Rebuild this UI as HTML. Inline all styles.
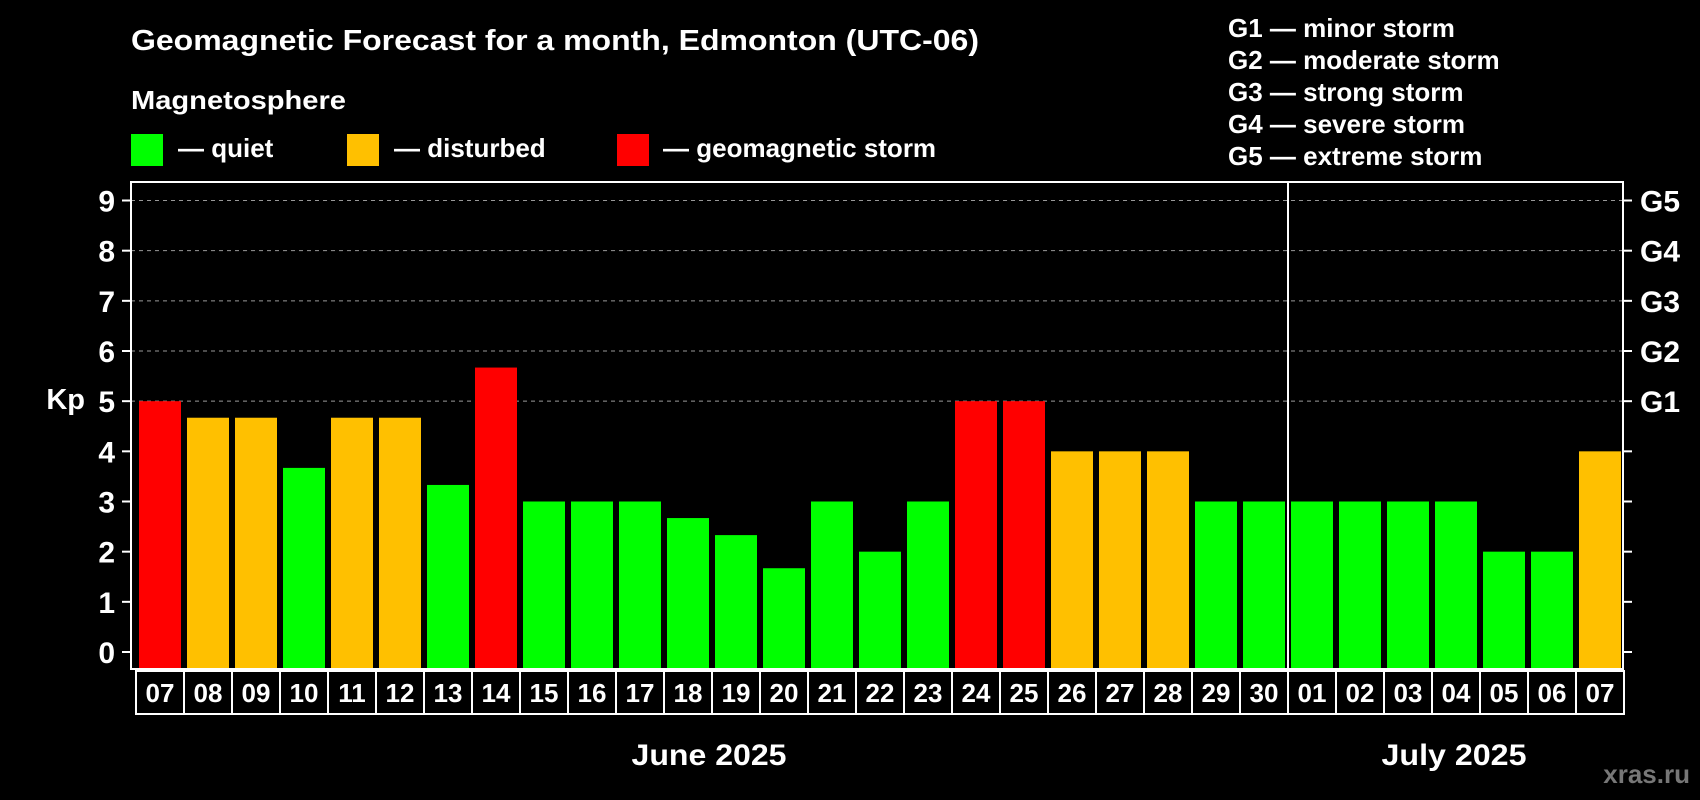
<!DOCTYPE html>
<html><head><meta charset="utf-8"><style>
html,body{margin:0;padding:0;background:#000;}
svg{display:block;font-family:"Liberation Sans",Arial,sans-serif;font-weight:bold;}
</style></head><body>
<svg id="chart" width="1700" height="800" viewBox="0 0 1700 800">
<rect width="1700" height="800" fill="#000"/>
<text x="131" y="50" fill="#fff" font-size="29" textLength="848" lengthAdjust="spacingAndGlyphs">Geomagnetic Forecast for a month, Edmonton (UTC-06)</text>
<text x="131" y="109" fill="#fff" font-size="26" textLength="215" lengthAdjust="spacingAndGlyphs">Magnetosphere</text>
<g>
<rect x="131" y="134" width="32" height="32" fill="#00ff00"/>
<text x="178" y="157" fill="#fff" font-size="26">— quiet</text>
<rect x="347" y="134" width="32" height="32" fill="#ffc000"/>
<text x="394" y="157" fill="#fff" font-size="26">— disturbed</text>
<rect x="617" y="134" width="32" height="32" fill="#ff0000"/>
<text x="663" y="157" fill="#fff" font-size="26">— geomagnetic storm</text>
</g>
<g font-size="26" fill="#fff">
<text x="1228" y="37">G1 — minor storm</text>
<text x="1228" y="69">G2 — moderate storm</text>
<text x="1228" y="101">G3 — strong storm</text>
<text x="1228" y="133">G4 — severe storm</text>
<text x="1228" y="165">G5 — extreme storm</text>
</g>
<g id="plot"></g>
<text x="85" y="409" fill="#fff" font-size="29" text-anchor="end">Kp</text>
<text x="709" y="765" fill="#fff" font-size="30" text-anchor="middle" textLength="155" lengthAdjust="spacingAndGlyphs">June 2025</text>
<text x="1454" y="765" fill="#fff" font-size="30" text-anchor="middle" textLength="145" lengthAdjust="spacingAndGlyphs">July 2025</text>
<text x="1690" y="783" fill="#777" font-size="26" text-anchor="end">xras.ru</text>
</svg>
<script>
const days = ["07","08","09","10","11","12","13","14","15","16","17","18","19","20","21","22","23","24","25","26","27","28","29","30","01","02","03","04","05","06","07"];
const kpValues = [5,4.67,4.67,3.67,4.67,4.67,3.33,5.67,3,3,3,2.67,2.33,1.67,3,2,3,5,5,4,4,4,3,3,3,3,3,3,2,2,4];
const yTicks = [0,1,2,3,4,5,6,7,8,9];
const gLabels = ["G1","G2","G3","G4","G5"];
const gLevels = [5,6,7,8,9];
const monthBreakIndex = 24;

const NS="http://www.w3.org/2000/svg";
const plot=document.getElementById('plot');
const L=131,R=1623,T=182,B=669,Y0=652,Y9=200.5;
const BOXT=671,BOXB=714;
const pitch=48;
const y=v=>Y0-(Y0-Y9)*v/9;
const xb=i=>L+8+pitch*i;
function mk(tag,attrs){const e=document.createElementNS(NS,tag);for(const k in attrs)e.setAttribute(k,attrs[k]);plot.appendChild(e);return e;}
const color=v=>v>=5?"#ff0000":(v>=4?"#ffc000":"#00ff00");

gLevels.forEach((g,i)=>{
  const l=mk('line',{x1:L,x2:R,y1:y(g),y2:y(g),stroke:"#999","stroke-dasharray":"4,4","stroke-width":1});
  
  
});
kpValues.forEach((v,i)=>{
  const r=mk('rect',{x:xb(i),y:y(v),width:42,height:B-1-y(v),fill:color(v)});
  
  
});
const frame=mk('rect',{x:L,y:T,width:R-L,height:B-T,fill:"none",stroke:"#fff","stroke-width":2});


const sep=mk('line',{x1:L+5+pitch*monthBreakIndex,x2:L+5+pitch*monthBreakIndex,y1:T,y2:BOXB,stroke:"#fff","stroke-width":2});


yTicks.forEach(t=>{
  const a=mk('line',{x1:122,x2:L,y1:y(t),y2:y(t),stroke:"#fff","stroke-width":2});
  
  
  const b=mk('line',{x1:R,x2:R+9,y1:y(t),y2:y(t),stroke:"#fff","stroke-width":2});
  
  
  const tx=mk('text',{x:115,y:y(t)+11,fill:"#fff","font-size":30,"text-anchor":"end"});
  tx.textContent=t;
  
  
});
gLabels.forEach((g,i)=>{
  const tx=mk('text',{x:R+17,y:y(gLevels[i])+11,fill:"#fff","font-size":30});
  tx.textContent=g;
  
  
});
const db=mk('rect',{x:L+5,y:BOXT,width:pitch*days.length,height:BOXB-BOXT,fill:"none",stroke:"#fff","stroke-width":2});


days.forEach((d,i)=>{
  if(i>0){
    const s=mk('line',{x1:L+5+pitch*i,x2:L+5+pitch*i,y1:BOXT,y2:BOXB,stroke:"#fff","stroke-width":2});
    
    
  }
  const tx=mk('text',{x:L+5+pitch*(i+0.5),y:702,fill:"#fff","font-size":26,"text-anchor":"middle"});
  tx.textContent=d;
  
  
});
</script>
</body></html>
